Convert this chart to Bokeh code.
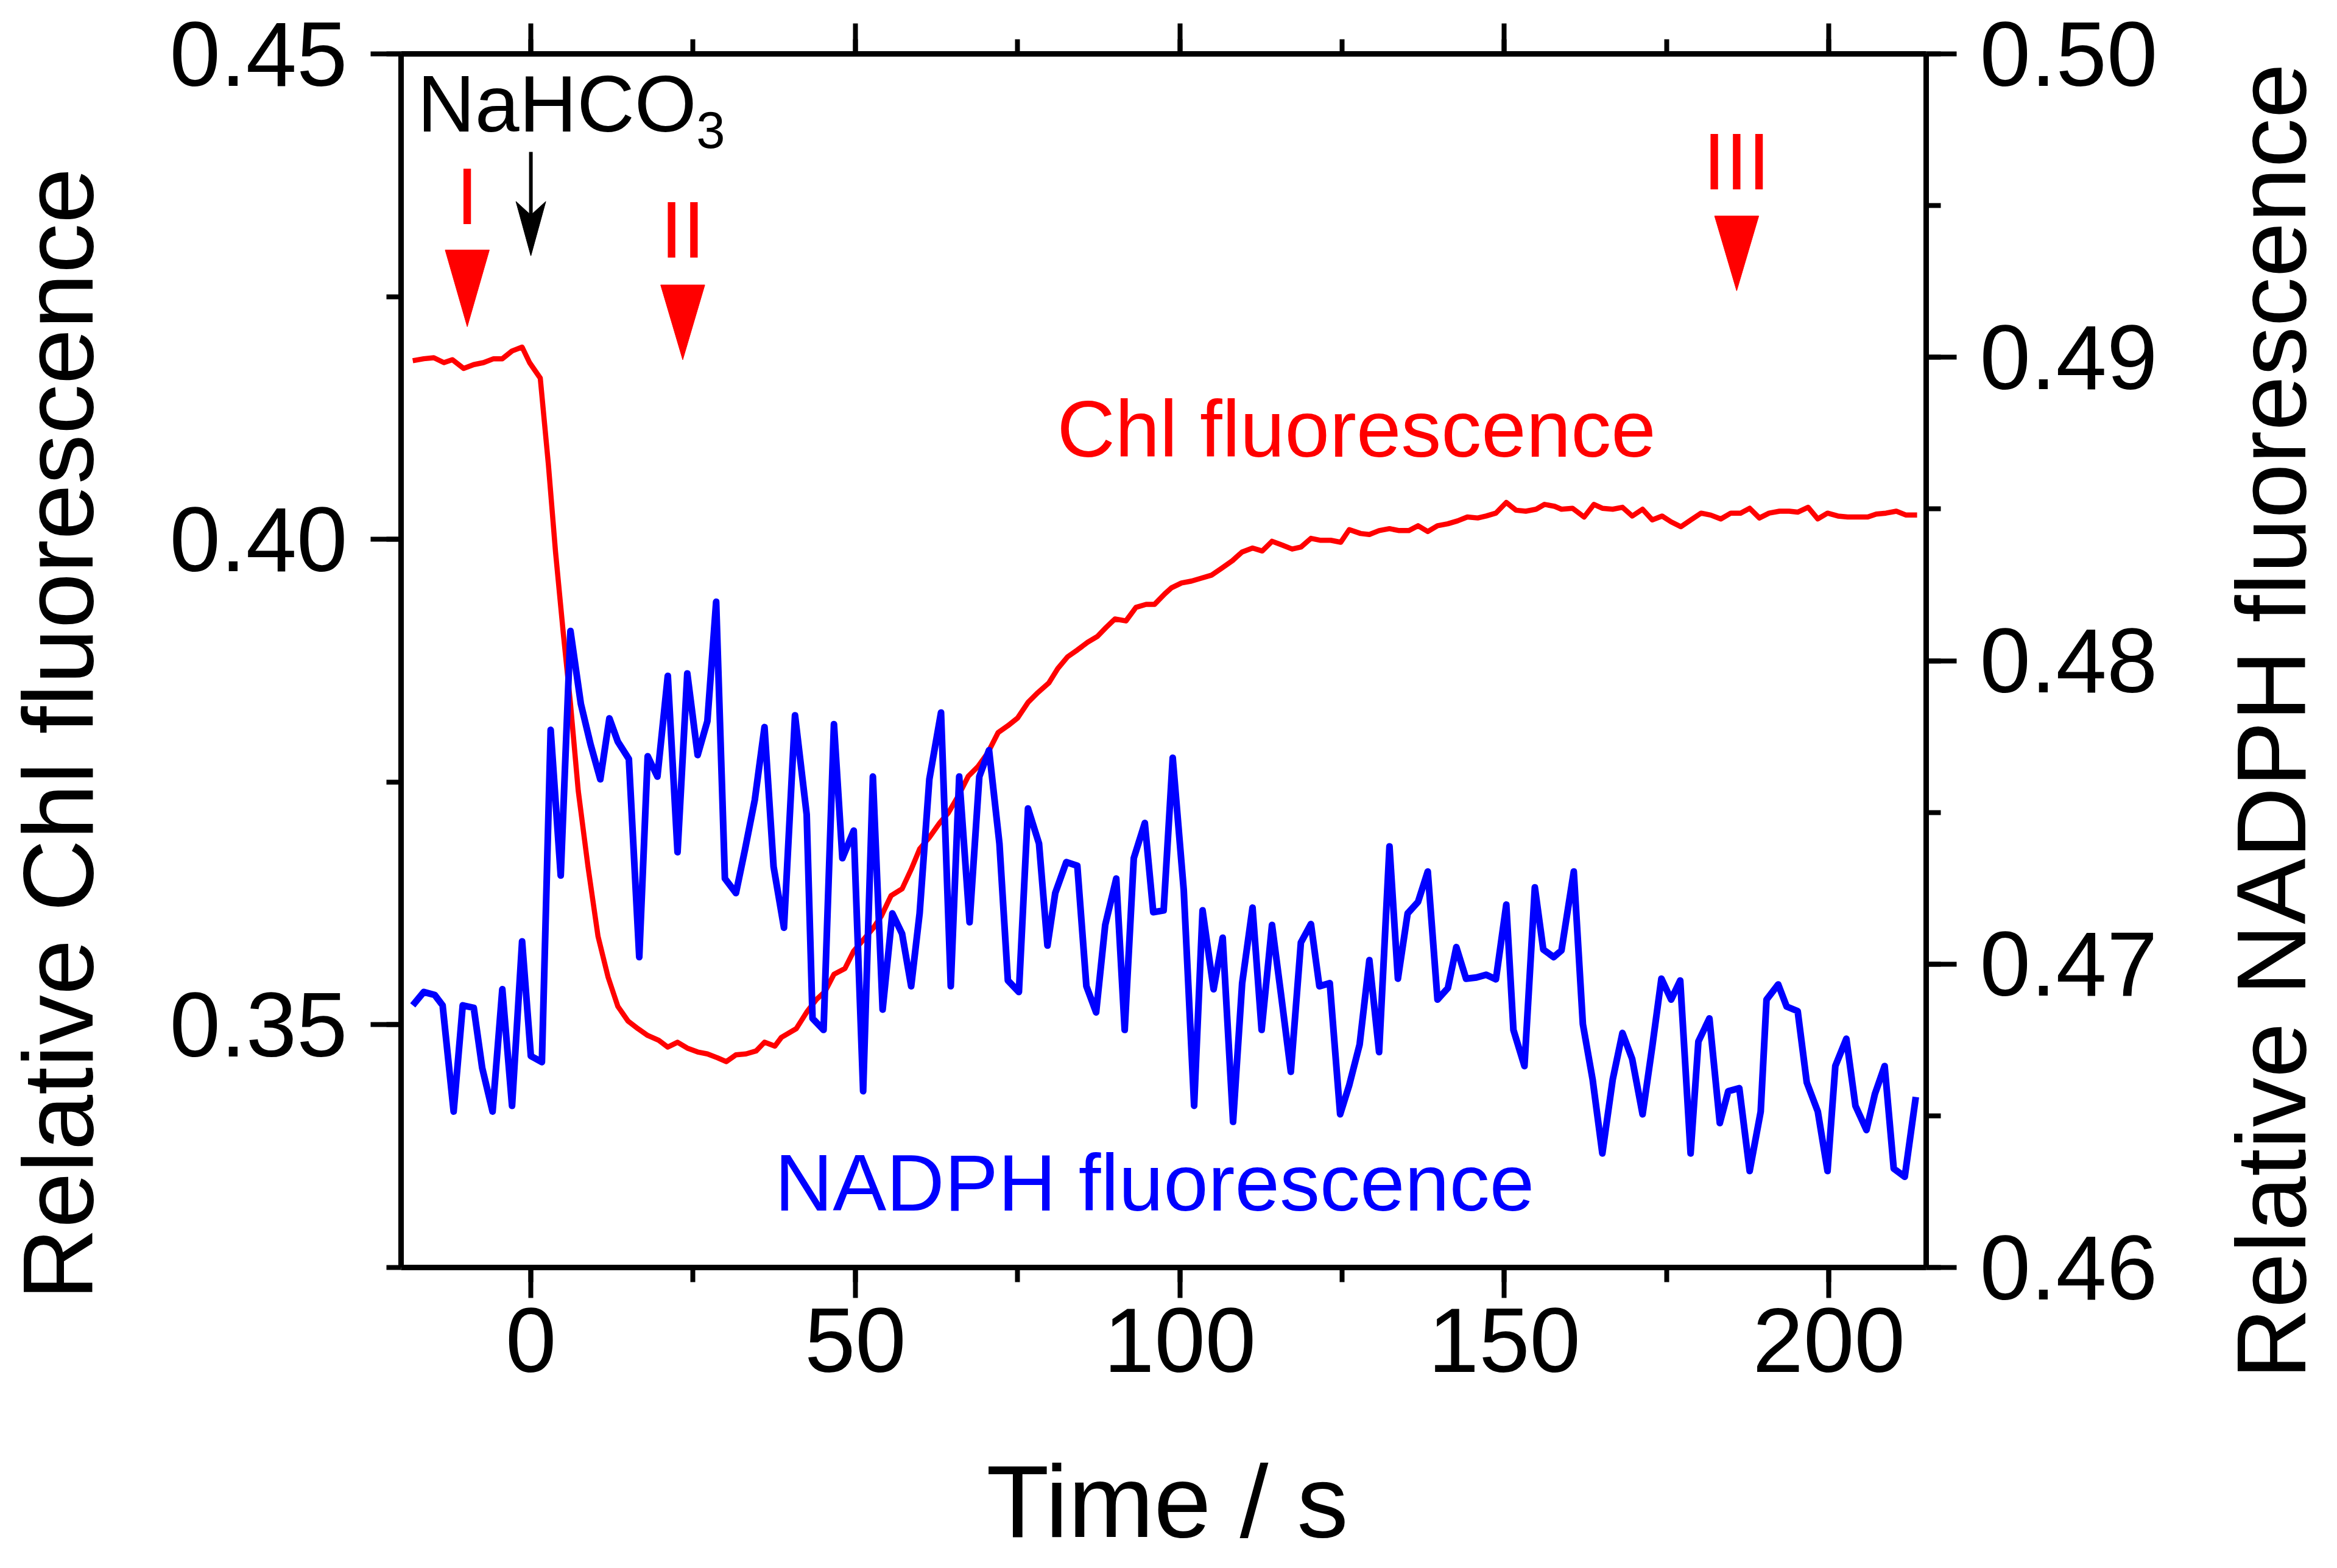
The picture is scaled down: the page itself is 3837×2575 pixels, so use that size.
import math
from bokeh.plotting import figure
from bokeh.layouts import row, column
from bokeh.models import Range1d, LinearAxis, SingleIntervalTicker, FixedTicker, PrintfTickFormatter, Spacer
from bokeh.core.properties import value
from bokeh.embed import file_html
from bokeh.resources import INLINE

# ---------------- data ----------------
chl_t = [-18.2, -16.5, -14.95, -13.4, -12.1, -10.35, -8.8, -7.3, -5.75, -4.4, -2.9, -1.35, -0.2, 1.45,
         2.7, 3.8, 5.0, 6.1, 7.3, 8.8, 10.35, 11.9, 13.4, 14.95, 16.5, 18.0, 19.7, 21.1, 22.6, 24.1,
         25.7, 27.2, 28.75, 30.1, 31.6, 33.15, 34.7, 36.0, 37.6, 38.6, 40.9, 42.5, 44.0, 45.3, 46.7,
         48.4, 49.75, 51.3, 52.8, 54.0, 55.5, 57.2, 58.6, 59.9, 61.4, 63.0, 64.3, 65.8, 67.4, 68.9,
         70.4, 72.0, 73.5, 75.0, 76.6, 78.1, 79.8, 81.2, 82.7, 84.2, 85.8, 87.3, 88.6, 90.0, 91.7,
         93.25, 94.8, 96.1, 97.7, 98.7, 100.25, 101.8, 103.3, 104.85, 106.4, 108.1, 109.6, 111.2,
         112.7, 114.2, 115.8, 117.3, 118.65, 120.2, 121.7, 123.25, 124.8, 126.1, 127.85, 129.2,
         130.7, 132.3, 133.8, 135.3, 136.7, 138.2, 139.7, 141.3, 142.8, 144.3, 145.9, 147.2, 148.7,
         150.3, 151.8, 153.3, 154.9, 156.2, 157.75, 158.8, 160.5, 162.3, 163.8, 165.1, 166.7, 168.2,
         169.7, 171.3, 172.8, 174.3, 175.7, 177.2, 178.75, 180.3, 181.8, 183.35, 184.9, 186.4, 187.8,
         189.3, 190.8, 192.4, 193.9, 195.2, 196.8, 198.3, 199.8, 201.4, 202.9, 204.4, 206.0, 207.3,
         208.8, 210.4, 211.9, 213.6]
chl_v = [0.4184, 0.4186, 0.4187, 0.4182, 0.4185, 0.4176, 0.4180, 0.4182, 0.4186, 0.4186, 0.4194, 0.4198,
         0.4182, 0.4166, 0.4077, 0.3987, 0.3903, 0.3831, 0.3741, 0.3663, 0.3591, 0.3549, 0.3519, 0.3504,
         0.3496, 0.3489, 0.3484, 0.3477, 0.3482, 0.3476, 0.3472, 0.3470, 0.3466, 0.3462, 0.3469, 0.3470,
         0.3473, 0.3482, 0.3478, 0.3487, 0.3496, 0.3513, 0.3526, 0.3534, 0.3552, 0.3558, 0.3576, 0.3588,
         0.3600, 0.3612, 0.3633, 0.3640, 0.3660, 0.3681, 0.3693, 0.3708, 0.3718, 0.3735, 0.3756, 0.3766,
         0.3780, 0.3801, 0.3808, 0.3816, 0.3832, 0.3842, 0.3852, 0.3867, 0.3879, 0.3886, 0.3894, 0.3900,
         0.3909, 0.3918, 0.3916, 0.3930, 0.3933, 0.3933, 0.3944, 0.3950, 0.3955, 0.3957, 0.3960, 0.3963,
         0.3970, 0.3978, 0.3987, 0.3991, 0.3988, 0.3998, 0.3994, 0.3990, 0.3992, 0.4001, 0.3999, 0.3999,
         0.3997, 0.4010, 0.4006, 0.4005, 0.4009, 0.4011, 0.4009, 0.4009, 0.4014, 0.4008, 0.4014, 0.4016,
         0.4019, 0.4023, 0.4022, 0.4024, 0.4027, 0.4038, 0.4030, 0.4029, 0.4031, 0.4036, 0.4034, 0.4031,
         0.4032, 0.4023, 0.4036, 0.4032, 0.4031, 0.4033, 0.4024, 0.4031, 0.4020, 0.4024, 0.4018, 0.4013,
         0.4020, 0.4027, 0.4025, 0.4021, 0.4027, 0.4027, 0.4032, 0.4022, 0.4027, 0.4029, 0.4029, 0.4028,
         0.4033, 0.4021, 0.4027, 0.4024, 0.4023, 0.4023, 0.4023, 0.4026, 0.4027, 0.4029, 0.4025, 0.4025]

nadph_t = [-18.2, -16.5, -14.8, -13.6, -11.9, -10.5, -8.8, -7.5, -5.9, -4.4, -2.9, -1.35, 0.0, 1.7, 3.05,
           4.6, 6.1, 7.7, 9.2, 10.7, 12.1, 13.4, 15.1, 16.7, 18.0, 19.5, 21.1, 22.6, 24.1, 25.7, 27.2,
           28.55, 29.9, 31.6, 33.0, 34.5, 36.0, 37.4, 39.0, 40.7, 42.5, 43.4, 45.1, 46.7, 48.0, 49.75,
           51.2, 52.7, 54.2, 55.7, 57.2, 58.6, 59.9, 61.4, 63.2, 64.7, 66.0, 67.6, 69.1, 70.6, 72.2,
           73.5, 75.2, 76.6, 78.3, 79.6, 80.8, 82.5, 84.2, 85.6, 87.1, 88.5, 90.2, 91.5, 92.9, 94.6,
           95.9, 97.5, 98.9, 100.6, 102.2, 103.5, 105.2, 106.6, 108.2, 109.6, 111.2, 112.6, 114.2,
           115.6, 117.1, 118.65, 120.2, 121.5, 123.1, 124.7, 126.1, 127.7, 129.2, 130.7, 132.3, 133.6,
           135.1, 136.7, 138.2, 139.7, 141.3, 142.6, 144.1, 145.7, 147.2, 148.7, 150.3, 151.4, 153.1,
           154.7, 156.0, 157.6, 158.8, 160.7, 162.1, 163.6, 165.1, 166.7, 168.2, 169.7, 171.3, 172.8,
           174.2, 175.7, 177.1, 178.7, 179.9, 181.6, 183.2, 184.5, 186.2, 187.8, 189.5, 190.4, 192.2,
           193.5, 195.2, 196.6, 198.3, 199.8, 201.0, 202.7, 204.1, 205.8, 207.1, 208.6, 210.0, 211.7,
           213.4]
nadph_v = [0.46864, 0.46908, 0.46898, 0.46864, 0.46514, 0.46864, 0.46856, 0.46658, 0.46514, 0.46917,
           0.46533, 0.47075, 0.46697, 0.46677, 0.47772, 0.47292, 0.48098, 0.47858, 0.47724, 0.47609,
           0.47810, 0.47733, 0.47676, 0.47023, 0.47685, 0.47618, 0.47950, 0.47369, 0.47958, 0.47689,
           0.47801, 0.48194, 0.47282, 0.47234, 0.47378, 0.47541, 0.47781, 0.47321, 0.47120, 0.47820,
           0.47493, 0.46821, 0.46783, 0.47791, 0.47349, 0.47440, 0.46581, 0.47618, 0.46850, 0.47167,
           0.47100, 0.46927, 0.47167, 0.47609, 0.47829, 0.46927, 0.47618, 0.47138, 0.47618, 0.47705,
           0.47397, 0.46946, 0.46908, 0.47513, 0.47397, 0.47061, 0.47234, 0.47336, 0.47324, 0.46927,
           0.46841, 0.47129, 0.47282, 0.46783, 0.47349, 0.47465, 0.47171, 0.47177, 0.47680, 0.47244,
           0.46533, 0.47177, 0.46917, 0.47087, 0.46480, 0.46937, 0.47186, 0.46783, 0.47129, 0.46898,
           0.46645, 0.47071, 0.47132, 0.46927, 0.46937, 0.46505, 0.46601, 0.46735, 0.47013, 0.46710,
           0.47388, 0.46952, 0.47167, 0.47205, 0.47305, 0.46883, 0.46921, 0.47056, 0.46952, 0.46956,
           0.46965, 0.46950, 0.47196, 0.46783, 0.46664, 0.47253, 0.47048, 0.47023, 0.47045, 0.47305,
           0.46802, 0.46620, 0.46376, 0.46620, 0.46773, 0.46687, 0.46505, 0.46729, 0.46952, 0.46883,
           0.46946, 0.46376, 0.46745, 0.46821, 0.46476, 0.46581, 0.46591, 0.46318, 0.46514, 0.46883,
           0.46933, 0.46860, 0.46845, 0.46610, 0.46514, 0.46318, 0.46664, 0.46754, 0.46533, 0.46453,
           0.46572, 0.46664, 0.46326, 0.46299, 0.46562]

# phase markers (I, II, III): x position, label centre, triangle top and tip (left-axis units)
phase_labels = ["I", "II", "III"]
phase_x = [-9.8, 23.4, 185.8]
phase_label_y = [0.43533, 0.43187, 0.43892]
phase_tri_top = [0.4298, 0.4262, 0.4333]
phase_tri_tip = [0.4219, 0.4185, 0.4256]

# NaHCO3 addition
addition_x = 0.0
addition_y_start = 0.4399
addition_y_tip = 0.4292

x_ticks_interval = 50
left_ticks_interval = 0.05
right_ticks_interval = 0.01

FONT = "Liberation Sans"
TICK_FS = "150px"

# ---------------- layout sizes (px) ----------------
WL, WM, WR = 200, 3392, 228
HM, HB = 2342, 223
LEFT_DROP, RIGHT_DROP = 68, 26

p = figure(width=WM, height=HM,
           x_range=Range1d(-20, 215), y_range=Range1d(0.325, 0.45),
           output_backend="svg", toolbar_location=None,
           min_border_left=458, min_border_right=430,
           min_border_top=88, min_border_bottom=261)
p.extra_y_ranges = {"nadph": Range1d(0.46, 0.50)}
p.xgrid.visible = False
p.ygrid.visible = False
p.outline_line_color = None
p.background_fill_color = "white"


def style(ax, standoff):
    ax.axis_line_width = 9
    ax.axis_line_color = "black"
    ax.major_tick_line_width = 8
    ax.minor_tick_line_width = 8
    ax.major_tick_line_color = "black"
    ax.minor_tick_line_color = "black"
    ax.major_tick_out = 50
    ax.major_tick_in = 0
    ax.minor_tick_out = 24
    ax.minor_tick_in = 0
    ax.major_label_text_font = FONT
    ax.major_label_text_font_size = TICK_FS
    ax.major_label_text_color = "black"
    ax.major_label_standoff = standoff


xa = p.xaxis[0]
xa.ticker = SingleIntervalTicker(interval=x_ticks_interval, num_minor_ticks=2)
style(xa, 17)

ya = p.yaxis[0]
ya.ticker = SingleIntervalTicker(interval=left_ticks_interval, num_minor_ticks=2)
ya.formatter = PrintfTickFormatter(format="%.2f")
style(ya, 38)

ra = LinearAxis(y_range_name="nadph",
                ticker=SingleIntervalTicker(interval=right_ticks_interval, num_minor_ticks=2),
                formatter=PrintfTickFormatter(format="%.2f"))
style(ra, 38)
p.add_layout(ra, "right")

ta = LinearAxis(ticker=SingleIntervalTicker(interval=x_ticks_interval, num_minor_ticks=2))
style(ta, 0)
ta.major_label_text_font_size = "1px"
ta.major_label_text_color = None
p.add_layout(ta, "above")

# curves
p.line(chl_t, chl_v, line_color="#ff0000", line_width=8.5, line_join="round")
p.line(nadph_t, nadph_v, line_color="#0000ff", line_width=11, line_join="round", y_range_name="nadph")

# phase markers
hw = 3.4
xs = [[x - hw, x + hw, x] for x in phase_x]
ys = [[t, t, b] for t, b in zip(phase_tri_top, phase_tri_tip)]
p.patches(xs, ys, fill_color="#ff0000", line_color="#ff0000", line_width=1)
p.text(x=phase_x, y=phase_label_y, text=phase_labels, text_color="#ff0000",
       text_font=value(FONT), text_font_size="132px", text_align="center",
       text_baseline="middle")

# NaHCO3 arrow
head_len = 0.0056
head_hw = 2.3
p.segment(x0=[addition_x], y0=[addition_y_start], x1=[addition_x], y1=[addition_y_tip + head_len * 0.7],
          line_color="black", line_width=6)
p.patch([addition_x - head_hw, addition_x, addition_x + head_hw, addition_x],
        [addition_y_tip + head_len, addition_y_tip, addition_y_tip + head_len, addition_y_tip + head_len * 0.75],
        fill_color="black", line_color="black", line_width=1)
p.text(x=[-17.5], y=[0.44486], text=["NaHCO"], text_color="black",
       text_font=value(FONT), text_font_size="131px", text_align="left", text_baseline="middle")
p.text(x=[25.5], y=[0.44217], text=["3"], text_color="black",
       text_font=value(FONT), text_font_size="85px", text_align="left", text_baseline="middle")

# series labels
p.text(x=[127.2], y=[0.41139], text=["Chl fluorescence"], text_color="#ff0000",
       text_font=value(FONT), text_font_size="132px", text_align="center", text_baseline="middle")
p.text(x=[96.1], y=[0.33373], text=["NADPH fluorescence"], text_color="#0000ff",
       text_font=value(FONT), text_font_size="132px", text_align="center", text_baseline="middle")


# ---------------- axis titles in their own strips ----------------
def title_strip(w, h, text, font_size, border_left):
    """A narrow figure whose (invisible) left axis carries a bottom-to-top title."""
    f = figure(width=w, height=h, x_range=Range1d(0, 1), y_range=Range1d(0, 1),
               x_axis_type=None, y_axis_type=None, output_backend="svg", toolbar_location=None,
               min_border_left=border_left, min_border_right=0,
               min_border_top=0, min_border_bottom=0)
    f.grid.visible = False
    f.outline_line_color = None
    f.background_fill_color = "white"
    ax = LinearAxis(ticker=FixedTicker(ticks=[]))
    ax.axis_line_color = None
    ax.major_tick_line_color = None
    ax.minor_tick_line_color = None
    ax.major_tick_out = 0
    ax.minor_tick_out = 0
    ax.major_label_text_font_size = "1px"
    ax.major_label_text_color = None
    ax.major_label_standoff = 0
    ax.axis_label = text
    ax.axis_label_standoff = 0
    ax.axis_label_text_font = FONT
    ax.axis_label_text_font_size = font_size
    ax.axis_label_text_font_style = "normal"
    ax.axis_label_text_color = "black"
    f.add_layout(ax, "left")
    return f


left_strip = title_strip(WL, HM - LEFT_DROP, "Relative Chl fluorescence", "164px", 0)
right_strip = title_strip(WR, HM - RIGHT_DROP, "Relative NADPH fluorescence", "162px", 226)
left_col = column(Spacer(width=WL, height=LEFT_DROP), left_strip, spacing=0)
right_col = column(Spacer(width=WR, height=RIGHT_DROP), right_strip, spacing=0)

bottom_strip = figure(width=WL + WM + WR, height=HB, x_range=Range1d(0, WL + WM + WR), y_range=Range1d(0, HB),
                      x_axis_type=None, y_axis_type=None, output_backend="svg", toolbar_location=None,
                      min_border_left=0, min_border_right=0, min_border_top=0, min_border_bottom=0)
bottom_strip.grid.visible = False
bottom_strip.outline_line_color = None
bottom_strip.text(x=[1916], y=[100], text=["Time / s"],
                  text_font=value(FONT), text_font_size="169px", text_color="black",
                  text_align="center", text_baseline="middle")

layout = column(row(left_col, p, right_col, spacing=0), bottom_strip, spacing=0)

open("out.html", "w").write(file_html(layout, INLINE))
